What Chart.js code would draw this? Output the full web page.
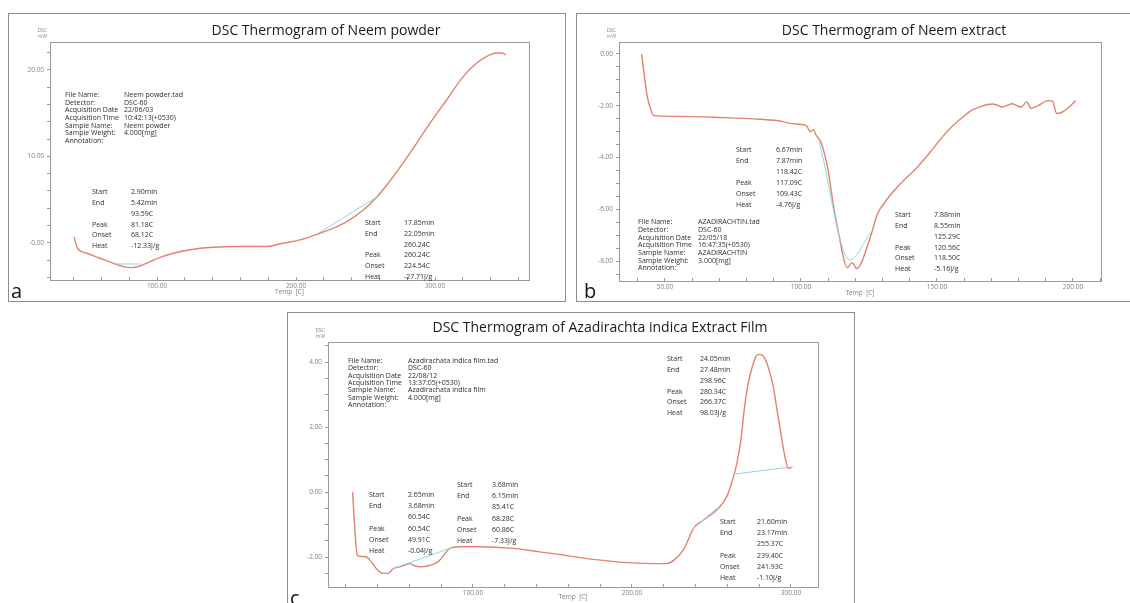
<!DOCTYPE html>
<html>
<head>
<meta charset="utf-8">
<script src="https://cdn.jsdelivr.net/npm/chart.js@4.4.0/dist/chart.umd.min.js"></script>
<style>
  body { margin: 0; width: 1130px; height: 603px; overflow: hidden; position: relative; background: #fff; }
  .frame { position: absolute; border: 1px solid #8c8c8c; box-sizing: border-box; }
  canvas { position: absolute; }
</style>
</head>
<body>
<div class="frame" style="left:8px;top:13px;width:558px;height:289px"></div>
<div class="frame" style="left:576px;top:13px;width:570px;height:289px"></div>
<div class="frame" style="left:287px;top:312px;width:568px;height:300px"></div>
<canvas id="chartA" width="558" height="289" style="left:8px;top:13px"></canvas>
<canvas id="chartB" width="554" height="289" style="left:576px;top:13px"></canvas>
<canvas id="chartC" width="568" height="291" style="left:287px;top:312px"></canvas>
<script>
// ---- a: Neem powder ----
const aTemp = [40.3, 42.7, 49.4, 59, 68.6, 75.8, 81.8, 87.8, 95, 102.2, 111.7, 126.1, 140.5, 159.7, 178.9, 188.5, 202.9, 217.3, 226.8, 236.5, 248.4, 258, 270, 284.4, 296.4, 308.4, 320.4, 330, 337.2, 344.4, 348, 351];
const aHeat = [0.73, -0.61, -1.19, -1.77, -2.35, -2.74, -2.85, -2.66, -2.16, -1.66, -1.19, -0.73, -0.5, -0.42, -0.42, -0.1, 0.35, 1.12, 1.7, 2.46, 3.8, 5.28, 7.67, 10.95, 13.84, 16.53, 19.23, 20.77, 21.54, 21.93, 21.93, 21.73];
const aBase1Temp = [69.8, 87.8], aBase1Heat = [-2.43, -2.43];
const aBase2Temp = [216, 258], aBase2Heat = [1.12, 5.28];
const aXTicks = [100, 200, 300], aXText = ['100.00', '200.00', '300.00'];
const aYTicks = [0, 10, 20], aYText = ['-0.00', '10.00', '20.00'];
const aInfo = [['File Name:', 'Neem powder.tad'], ['Detector:', 'DSC-60'], ['Acquisition Date', '22/06/03'], ['Acquisition Time', '10:42:13(+0530)'], ['Sample Name:', 'Neem powder'], ['Sample Weight:', '4.000[mg]'], ['Annotation:', '']];
const aPeak1 = [['Start', '2.90min'], ['End', '5.42min'], ['', '93.59C'], ['Peak', '81.18C'], ['Onset', '68.12C'], ['Heat', '-12.33J/g']];
const aPeak2 = [['Start', '17.85min'], ['End', '22.05min'], ['', '260.24C'], ['Peak', '260.24C'], ['Onset', '224.54C'], ['Heat', '-27.71J/g']];

// ---- b: Neem extract ----
const bTemp = [41.4, 43.5, 44.5, 45.9, 55, 70, 85, 93, 96, 100, 102, 103.5, 104.5, 105.5, 107.5, 110, 112, 114, 115.6, 117, 118.8, 120.5, 122, 123.5, 126, 128, 131, 134, 138, 142.5, 147, 152, 156, 159.6, 163, 166, 170.4, 172, 174, 176, 177.6, 179.5, 181, 183, 184.6, 187, 191, 192.5, 194, 196, 198.6, 201];
const bHeat = [0, -1.65, -2.05, -2.38, -2.41, -2.45, -2.52, -2.6, -2.68, -2.72, -2.77, -3.0, -2.92, -3.12, -3.45, -4.5, -5.9, -7.0, -7.85, -8.25, -8.05, -8.28, -8.1, -7.7, -6.9, -6.2, -5.7, -5.3, -4.85, -4.4, -3.85, -3.2, -2.75, -2.43, -2.16, -2.03, -1.93, -1.97, -2.05, -1.98, -1.92, -2.0, -2.05, -1.85, -2.1, -2.0, -1.8, -1.82, -2.3, -2.25, -2.05, -1.8];
const bBaseTemp = [106.7, 118, 125.4], bBaseHeat = [-3.38, -7.95, -6.92];
const bXTicks = [50, 100, 150, 200], bXText = ['50.00', '100.00', '150.00', '200.00'];
const bYTicks = [0, -2, -4, -6, -8], bYText = ['0.00', '-2.00', '-4.00', '-6.00', '-8.00'];
const bInfo = [['File Name:', 'AZADIRACHTIN.tad'], ['Detector:', 'DSC-60'], ['Acquisition Date', '22/05/18'], ['Acquisition Time', '16:47:35(+0530)'], ['Sample Name:', 'AZADIRACHTIN'], ['Sample Weight:', '3.000[mg]'], ['Annotation:', '']];
const bPeak1 = [['Start', '6.67min'], ['End', '7.87min'], ['', '118.42C'], ['Peak', '117.09C'], ['Onset', '109.43C'], ['Heat', '-4.76J/g']];
const bPeak2 = [['Start', '7.88min'], ['End', '8.55min'], ['', '125.29C'], ['Peak', '120.56C'], ['Onset', '118.50C'], ['Heat', '-5.16J/g']];

// ---- c: Azadirachta indica extract film ----
const cTemp = [24.3, 25.5, 27.2, 30, 32.7, 36, 40, 43.2, 46.7, 49.9, 54, 57, 60.4, 62.5, 66.7, 73, 78.2, 82.4, 85.5, 91.8, 104.4, 125.4, 142, 154.7, 161, 175.7, 196.7, 215, 221.8, 227, 232.3, 235.5, 238.6, 244.9, 253.3, 259.6, 263.8, 266, 268.5, 270.5, 272, 274, 276.3, 278, 280, 281.8, 283.6, 286, 288.9, 291, 293, 295, 296.2, 298.3, 300.4];
const cHeat = [0, -1.0, -1.94, -1.98, -1.99, -2.14, -2.4, -2.5, -2.5, -2.35, -2.3, -2.25, -2.2, -2.25, -2.3, -2.25, -2.14, -1.89, -1.73, -1.68, -1.68, -1.73, -1.84, -1.92, -1.97, -2.07, -2.17, -2.2, -2.2, -2.07, -1.78, -1.45, -1.12, -0.86, -0.55, -0.14, 0.47, 0.9, 1.6, 2.5, 3.04, 3.55, 3.96, 4.18, 4.24, 4.22, 4.11, 3.8, 3.24, 2.6, 2.0, 1.4, 1.09, 0.73, 0.76];
const cBase1Temp = [49.9, 86], cBase1Heat = [-2.35, -1.72];
const cBase2Temp = [238.6, 253.3], cBase2Heat = [-1.12, -0.5];
const cBase3Temp = [263.3, 301.4], cBase3Heat = [0.55, 0.78];
const cXTicks = [100, 200, 300], cXText = ['100.00', '200.00', '300.00'];
const cYTicks = [4, 2, 0, -2], cYText = ['4.00', '2.00', '0.00', '-2.00'];
const cInfo = [['File Name:', 'Azadirachata indica film.tad'], ['Detector:', 'DSC-60'], ['Acquisition Date', '22/08/12'], ['Acquisition Time', '13:37:05(+0530)'], ['Sample Name:', 'Azadirachata indica film'], ['Sample Weight:', '4.000[mg]'], ['Annotation:', '']];
const cPeak1 = [['Start', '2.65min'], ['End', '3.68min'], ['', '60.54C'], ['Peak', '60.54C'], ['Onset', '49.91C'], ['Heat', '-0.04J/g']];
const cPeak2 = [['Start', '3.68min'], ['End', '6.15min'], ['', '85.41C'], ['Peak', '68.28C'], ['Onset', '60.86C'], ['Heat', '-7.33J/g']];
const cPeak3 = [['Start', '24.05min'], ['End', '27.48min'], ['', '298.96C'], ['Peak', '280.34C'], ['Onset', '266.37C'], ['Heat', '98.03J/g']];
const cPeak4 = [['Start', '21.60min'], ['End', '23.17min'], ['', '255.37C'], ['Peak', '239.40C'], ['Onset', '241.93C'], ['Heat', '-1.10J/g']];

const CURVE = '#e3826e';
const BASE = '#8ad8e2';
const FONT = '"Open Sans", "Noto Sans", sans-serif';

// frame of the plot area, titles, panel letter and the instrument notes
const dscNotes = {
  id: 'dscNotes',
  afterDraw(chart, args, o) {
    const { ctx, chartArea: a, scales: { x, y } } = chart;
    ctx.save();
    ctx.strokeStyle = '#9a9a9a';
    ctx.lineWidth = 1;
    ctx.strokeRect(Math.round(a.left) + 0.5, Math.round(a.top) + 0.5, Math.round(a.right - a.left), Math.round(a.bottom - a.top));

    ctx.textBaseline = 'middle';
    ctx.fillStyle = '#1a1a1a';
    ctx.textAlign = 'center';
    ctx.font = o.titleSize + 'px ' + FONT;
    ctx.fillText(o.title, o.titleAt[0], o.titleAt[1]);

    ctx.textAlign = 'left';
    ctx.fillStyle = '#111';
    ctx.font = '20px ' + FONT;
    ctx.fillText(o.letter, o.letterAt[0], o.letterAt[1]);

    ctx.textAlign = 'right';
    ctx.fillStyle = '#888';
    ctx.font = '5px ' + FONT;
    ctx.fillText('DSC', a.left - 3, a.top - 11);
    ctx.fillText('mW', a.left - 3, a.top - 5);

    ctx.textAlign = 'left';
    ctx.fillStyle = '#2e2e2e';
    ctx.font = '7px ' + FONT;
    for (const b of o.blocks) {
      const px = x.getPixelForValue(b.at[0]);
      const py = y.getPixelForValue(b.at[1]);
      b.lines.forEach((l, i) => {
        ctx.fillText(l[0], px, py + i * b.step);
        ctx.fillText(l[1], px + b.col, py + i * b.step);
      });
    }
    ctx.restore();
  }
};
Chart.register(dscNotes);

function series(t, h, color, width) {
  return {
    data: t.map((v, i) => ({ x: v, y: h[i] })),
    showLine: true,
    borderColor: color,
    borderWidth: width,
    pointRadius: 0,
    cubicInterpolationMode: 'monotone'
  };
}

function tickText(values, texts) {
  return v => {
    const i = values.findIndex(t => Math.abs(t - v) < 1e-6);
    return i < 0 ? '' : texts[i];
  };
}

function makeChart(id, p) {
  return new Chart(document.getElementById(id), {
    type: 'scatter',
    data: { datasets: p.datasets },
    options: {
      responsive: false,
      animation: false,
      events: [],
      layout: { autoPadding: false, padding: { top: p.top, right: p.right, left: 0, bottom: 0 } },
      plugins: { legend: { display: false }, tooltip: { enabled: false }, dscNotes: p.notes },
      scales: {
        x: {
          type: 'linear', min: p.x[0], max: p.x[1],
          afterFit: s => { s.height = p.xh; },
          ticks: { stepSize: p.x[2], autoSkip: false, maxRotation: 0, includeBounds: false, padding: 5,
                   color: '#808080', font: { family: FONT, size: 6.5 }, callback: tickText(p.xTicks, p.xText) },
          grid: { drawOnChartArea: false, tickLength: -3, color: '#9a9a9a' },
          border: { color: '#9a9a9a' },
          title: { display: true, text: 'Temp  [C]', color: '#808080', font: { family: FONT, size: 6.5 }, padding: { top: 0, bottom: p.titlePad } }
        },
        y: {
          type: 'linear', min: p.y[0], max: p.y[1],
          afterFit: s => { s.width = p.left; },
          ticks: { stepSize: p.y[2], autoSkip: false, includeBounds: false, padding: 3,
                   color: '#808080', font: { family: FONT, size: 6.5 }, callback: tickText(p.yTicks, p.yText) },
          grid: { drawOnChartArea: false, tickLength: 3, color: '#9a9a9a' },
          border: { color: '#9a9a9a' }
        }
      }
    }
  });
}

window.onload = function () {
  makeChart('chartA', {
    datasets: [
      series(aBase1Temp, aBase1Heat, BASE, 1),
      series(aBase2Temp, aBase2Heat, BASE, 1),
      series(aTemp, aHeat, CURVE, 1.4)
    ],
    x: [23, 367.6, 20], y: [-4.28, 23.2, 2],
    xTicks: aXTicks, xText: aXText, yTicks: aYTicks, yText: aYText,
    left: 42, top: 29, right: 37, xh: 22, titlePad: 6,
    notes: {
      title: 'DSC Thermogram of Neem powder', titleSize: 14, titleAt: [318, 18],
      letter: 'a', letterAt: [3, 279],
      blocks: [
        { lines: aInfo, at: [33.8, 17.1], col: 59, step: 7.7 },
        { lines: aPeak1, at: [53.2, 5.9], col: 39, step: 10.9 },
        { lines: aPeak2, at: [249.6, 2.3], col: 39, step: 10.8 }
      ]
    }
  });

  makeChart('chartB', {
    datasets: [
      series(bBaseTemp, bBaseHeat, BASE, 1),
      series(bTemp, bHeat, CURVE, 1.4)
    ],
    x: [33.1, 210.3, 10], y: [-8.76, 0.46, 0.5],
    xTicks: bXTicks, xText: bXText, yTicks: bYTicks, yText: bYText,
    left: 43, top: 29, right: 29, xh: 21, titlePad: 5,
    notes: {
      title: 'DSC Thermogram of Neem extract', titleSize: 14, titleAt: [318, 18],
      letter: 'b', letterAt: [8, 279],
      blocks: [
        { lines: bInfo, at: [40.1, -6.49], col: 60, step: 7.7 },
        { lines: bPeak1, at: [76.1, -3.71], col: 40, step: 11 },
        { lines: bPeak2, at: [134.6, -6.22], col: 39, step: 10.8 }
      ]
    }
  });

  makeChart('chartC', {
    datasets: [
      series(cBase1Temp, cBase1Heat, BASE, 1),
      series(cBase2Temp, cBase2Heat, BASE, 1),
      series(cBase3Temp, cBase3Heat, BASE, 1),
      series(cTemp, cHeat, CURVE, 1.4)
    ],
    x: [8.8, 317, 20], y: [-2.92, 4.62, 0.5],
    xTicks: cXTicks, xText: cXText, yTicks: cYTicks, yText: cYText,
    left: 41, top: 30, right: 37, xh: 16, titlePad: 2,
    notes: {
      title: 'DSC Thermogram of Azadirachta indica Extract Film', titleSize: 14, titleAt: [313, 16],
      letter: 'c', letterAt: [3, 287],
      blocks: [
        { lines: cInfo, at: [21.4, 4.03], col: 60, step: 7.3 },
        { lines: cPeak1, at: [34.6, -0.09], col: 39, step: 11.2 },
        { lines: cPeak2, at: [89.9, 0.22], col: 35, step: 11.2 },
        { lines: cPeak3, at: [222, 4.09], col: 33, step: 10.8 },
        { lines: cPeak4, at: [255.3, -0.92], col: 37, step: 11.2 }
      ]
    }
  });
};
</script>
</body>
</html>
